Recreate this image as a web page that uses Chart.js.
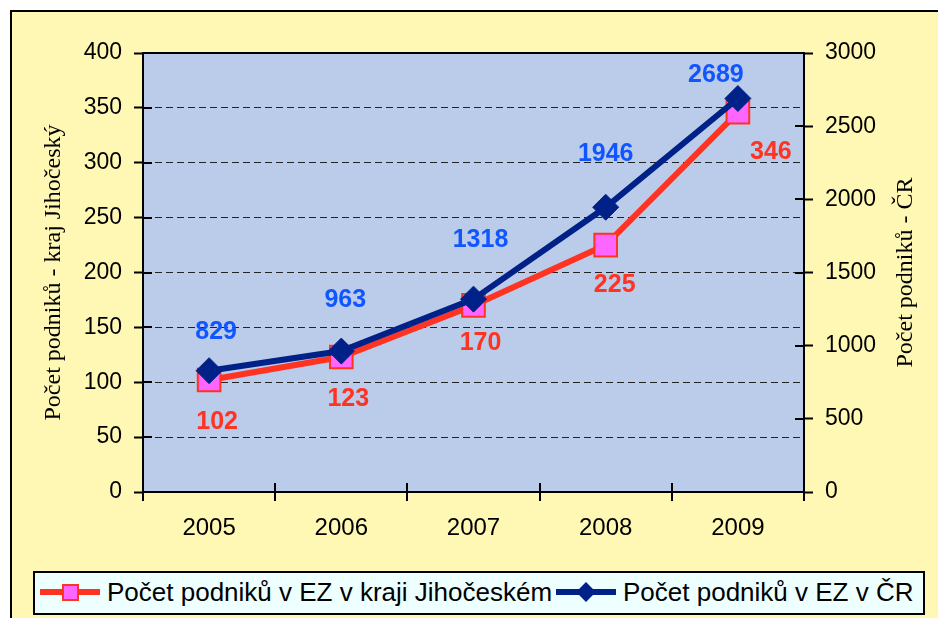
<!DOCTYPE html>
<html lang="cs">
<head>
<meta charset="utf-8">
<title>Počet podniků v EZ</title>
<script src="https://cdn.jsdelivr.net/npm/chart.js@4.4.1/dist/chart.umd.min.js"></script>
<style>
  html, body { margin: 0; padding: 0; background: #fff; }
  #wrap { position: relative; width: 938px; height: 618px; overflow: hidden; }
  #frame {
    position: absolute; left: 10px; top: 10px; width: 940px; height: 620px;
    background: #FFF8B4; border-top: 2px solid #000; border-left: 2px solid #000;
  }
  #chart { position: absolute; left: 0; top: 0; }
  #legend {
    position: absolute; left: 33px; top: 571px; width: 892px; height: 44px;
    box-sizing: border-box; border: 2px solid #000; background: #EEFFFF;
    font-family: "Liberation Sans", Arial, sans-serif; font-size: 26px; color: #000;
  }
  #legend .ln { position: absolute; top: 16px; width: 60px; height: 6px; }
  #legend .mk { position: absolute; box-sizing: border-box; }
  #legend .tx { position: absolute; top: 0; line-height: 38px; white-space: nowrap; }
</style>
</head>
<body>
<div id="wrap">
  <div id="frame"></div>
  <canvas id="chart" width="938" height="618"></canvas>
  <div id="legend"></div>
</div>
<script>
// data
const years = ['2005', '2006', '2007', '2008', '2009'];
const podnikyJihocesky = [102, 123, 170, 225, 346];
const podnikyCR = [829, 963, 1318, 1946, 2689];
const seriesNames = ['Počet podniků v EZ v kraji Jihočeském', 'Počet podniků v EZ v ČR'];
const axisTitles = ['Počet podniků - kraj Jihočeský', 'Počet podniků - ČR'];

// label placement relative to the point (dx, dy)
const shiftJc = [[8, 42], [7, 42], [7, 38], [9, 40], [33, 40]];
const shiftCR = [[7, -39], [4, -51], [7, -59], [0, -53], [-22, -23]];

const RED = '#FF3322', PINK = '#FF66FF', NAVY = '#002288', BLUE = '#1155FF';

Chart.defaults.font.family = '"Liberation Sans", Arial, sans-serif';
Chart.defaults.color = '#000';

// plot background, top border and inner halves of the crossing tick marks
const plotFrame = {
    id: 'plotFrame',
    beforeDraw(chart) {
        const { ctx, chartArea: a } = chart;
        ctx.save();
        ctx.fillStyle = '#BBCCEA';
        ctx.fillRect(a.left, a.top, a.right - a.left, a.bottom - a.top);
        ctx.restore();
    },
    beforeDatasetsDraw(chart) {
        const { ctx, chartArea: a, scales } = chart;
        ctx.save();
        ctx.strokeStyle = '#000';
        ctx.lineWidth = 2;
        ctx.beginPath();
        ctx.moveTo(a.left - 1, a.top);
        ctx.lineTo(a.right + 1, a.top);
        // x boundaries
        const n = years.length;
        const step = (a.right - a.left) / n;
        for (let i = 1; i < n; i++) {
            const px = Math.round(a.left + i * step);
            ctx.moveTo(px, a.bottom);
            ctx.lineTo(px, a.bottom - 9);
        }
        scales.y.ticks.forEach(function(t, i) {
            const py = Math.round(scales.y.getPixelForTick(i));
            ctx.moveTo(a.left, py);
            ctx.lineTo(a.left + 9, py);
        });
        scales.y2.ticks.forEach(function(t, i) {
            const py = Math.round(scales.y2.getPixelForTick(i));
            ctx.moveTo(a.right, py);
            ctx.lineTo(a.right - 9, py);
        });
        ctx.stroke();
        ctx.restore();
    },
    afterDraw(chart) {
        const { ctx, chartArea: a } = chart;
        const cy = (a.top + a.bottom) / 2;
        ctx.save();
        ctx.fillStyle = '#000';
        ctx.font = '24px "Liberation Serif", "Times New Roman", serif';
        ctx.textAlign = 'center';
        ctx.textBaseline = 'middle';
        [[54, axisTitles[0]], [906, axisTitles[1]]].forEach(function(p) {
            ctx.save();
            ctx.translate(p[0], cy);
            ctx.rotate(-Math.PI / 2);
            ctx.fillText(p[1], 0, 0);
            ctx.restore();
        });
        ctx.restore();
    }
};

// value labels next to the points
const valueLabels = {
    id: 'valueLabels',
    afterDatasetsDraw(chart) {
        const ctx = chart.ctx;
        ctx.save();
        ctx.font = 'bold 25px "Liberation Sans", Arial, sans-serif';
        ctx.textAlign = 'center';
        ctx.textBaseline = 'middle';
        chart.data.datasets.forEach(function(ds, di) {
            const meta = chart.getDatasetMeta(di);
            const shifts = di === 0 ? shiftJc : shiftCR;
            ctx.fillStyle = di === 0 ? RED : BLUE;
            meta.data.forEach(function(pt, i) {
                ctx.fillText(String(ds.data[i]), pt.x + shifts[i][0], pt.y + shifts[i][1]);
            });
        });
        ctx.restore();
    }
};

new Chart(document.getElementById('chart'), {
    type: 'line',
    data: {
        labels: years,
        datasets: [
            {
                label: seriesNames[0],
                data: podnikyJihocesky,
                yAxisID: 'y',
                borderColor: RED,
                borderWidth: 6,
                pointStyle: 'rect',
                pointRadius: 16,
                pointHoverRadius: 16,
                pointBackgroundColor: PINK,
                pointBorderColor: RED,
                pointBorderWidth: 2,
                tension: 0,
                order: 2
            },
            {
                label: seriesNames[1],
                data: podnikyCR,
                yAxisID: 'y2',
                borderColor: NAVY,
                borderWidth: 6,
                pointStyle: 'rectRot',
                pointRadius: 13,
                pointHoverRadius: 13,
                pointBackgroundColor: NAVY,
                pointBorderColor: NAVY,
                pointBorderWidth: 1,
                tension: 0,
                order: 1
            }
        ]
    },
    options: {
        responsive: false,
        animation: false,
        layout: { padding: { top: 53, left: 0, right: 0, bottom: 0 } },
        plugins: {
            legend: { display: false },
            tooltip: { enabled: false }
        },
        scales: {
            x: {
                offset: true,
                afterFit: function(s) { s.height = 126; },
                grid: {
                    offset: true, drawOnChartArea: false, drawTicks: true,
                    tickLength: 9, color: '#000', lineWidth: 2
                },
                border: { display: true, color: '#000', width: 2 },
                ticks: { font: { size: 24 }, color: '#000', padding: 13 }
            },
            y: {
                position: 'left',
                min: 0, max: 400,
                afterFit: function(s) { s.width = 143; },
                ticks: {
                    stepSize: 50, font: { size: 23 }, color: '#000', padding: 12,
                    callback: function(v) { return String(v); }
                },
                grid: {
                    color: '#222', lineWidth: 1, drawTicks: true, tickLength: 9,
                    tickColor: '#000', tickWidth: 2
                },
                border: { display: true, color: '#000', width: 2, dash: [7, 4] }
            },
            y2: {
                position: 'right',
                min: 0, max: 3000,
                afterFit: function(s) { s.width = 134; },
                ticks: {
                    stepSize: 500, font: { size: 23 }, color: '#000', padding: 12,
                    callback: function(v) { return String(v); }
                },
                grid: {
                    drawOnChartArea: false, drawTicks: true, tickLength: 9,
                    color: '#000', tickWidth: 2
                },
                border: { display: true, color: '#000', width: 2 }
            }
        }
    },
    plugins: [plotFrame, valueLabels]
});

// legend
const legend = document.getElementById('legend');
const legendItems = [
    { x: 5, color: RED, marker: 'square' },
    { x: 521, color: NAVY, marker: 'diamond' }
];
legendItems.forEach(function(item, i) {
    const ln = document.createElement('span');
    ln.className = 'ln';
    ln.style.left = item.x + 'px';
    ln.style.background = item.color;
    legend.appendChild(ln);

    const mk = document.createElement('span');
    mk.className = 'mk';
    if (item.marker === 'square') {
        mk.style.cssText = 'left:' + (item.x + 22) + 'px;top:11px;width:17px;height:17px;' +
            'background:' + PINK + ';border:2px solid ' + RED + ';';
    } else {
        mk.style.cssText = 'left:' + (item.x + 23) + 'px;top:12px;width:14px;height:14px;' +
            'background:' + NAVY + ';transform:rotate(45deg);';
    }
    legend.appendChild(mk);

    const tx = document.createElement('span');
    tx.className = 'tx';
    tx.style.left = (item.x + 67) + 'px';
    tx.textContent = seriesNames[i];
    legend.appendChild(tx);
});
</script>
</body>
</html>
